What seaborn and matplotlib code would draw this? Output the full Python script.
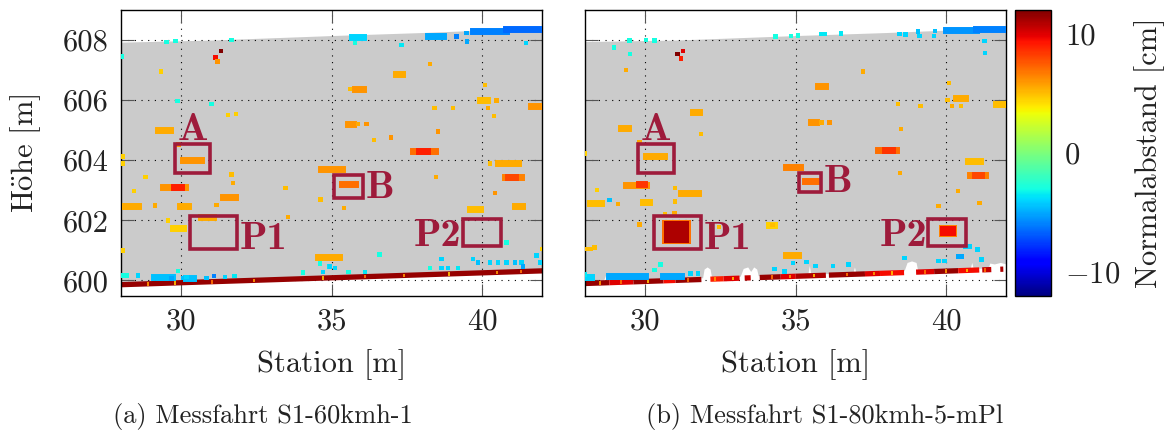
import numpy as np
import pandas as pd
import matplotlib
matplotlib.use("Agg")
import matplotlib.pyplot as plt
import seaborn as sns
from matplotlib.colors import Normalize
from matplotlib.patches import Rectangle
from matplotlib.cm import ScalarMappable

# ---------------------------------------------------------------- data
# value range of the normal distance colour scale [cm]
V_MIN, V_MAX = -12, 12

# ---- run (a): S1-60kmh-1
a_top_x = [28.0, 31.0, 35.0, 38.0, 40.0, 42.0]
a_top_y = [607.93, 608.0, 608.15, 608.25, 608.33, 608.42]
a_floor_x = [28.0, 42.0]
a_floor_y = [599.86, 600.32]
a_fleck_x = [28.9, 29.8, 31.0, 32.4, 34.7, 36.1, 37.4, 38.9, 40.5, 41.3]
a_fleck_v = [6, 5, 7, 6, 5, 7, 6, 5, 6, 7]

a_pt_x = [28.01, 29.50, 29.80, 31.66, 29.87, 31.00, 35.77, 37.32, 39.50, 41.45,
          39.15, 39.48,
          28.01, 28.17, 28.56, 29.34, 29.67, 29.89, 30.06, 30.17, 30.83, 31.09,
          31.44, 31.77, 34.04, 34.60, 34.71, 34.93, 34.61, 34.94, 35.55, 36.10,
          36.58, 38.26, 38.65, 38.87, 39.20, 38.65, 39.70, 39.87, 40.26, 40.53,
          40.81, 41.09, 41.31, 41.36, 41.81, 41.92, 40.81, 35.10,
          31.31, 31.13, 31.20, 29.32, 31.55, 31.81, 29.90, 28.06, 28.06, 28.80,
          31.66, 31.72, 28.43, 33.46, 34.63, 29.12, 31.16, 33.54, 29.56, 28.06,
          42.00, 38.26, 35.60, 40.09, 40.48, 40.20, 40.40, 38.41, 39.04, 35.88,
          36.16, 38.54, 36.41, 36.96, 38.46, 40.26, 40.42, 35.41]
a_pt_y = [607.45, 607.93, 607.97, 608.00, 605.98, 605.87, 607.90, 607.84, 607.95, 607.90,
          608.12, 608.23,
          600.17, 600.17, 600.17, 600.06, 600.06, 600.31, 600.09, 600.12, 600.09, 600.14,
          600.11, 600.14, 600.26, 600.55, 600.28, 600.46, 600.59, 600.47, 600.28, 600.28,
          600.86, 600.42, 600.42, 600.42, 600.42, 600.72, 600.72, 600.60, 600.60, 600.60,
          600.60, 600.60, 600.60, 600.46, 600.83, 600.60, 601.27, 600.42,
          607.64, 607.42, 607.29, 606.95, 605.51, 605.54, 604.52, 604.12, 603.89, 603.45,
          603.52, 603.25, 602.97, 603.08, 602.69, 602.49, 602.52, 602.12, 602.00, 601.00,
          601.05, 607.20, 606.37, 606.51, 605.99, 605.74, 605.48, 605.74, 605.74, 605.20,
          605.20, 604.96, 604.68, 604.76, 603.45, 603.89, 602.91, 602.42]
a_pt_v = [-3, -3, -3, -3, -3, -3, -3, -3.5, -5, -4,
          -6, -5,
          -3, -3, -4, -4.5, -5, -3, -4.5, -4, -4.5, -6,
          -4, -3.5, -3, -3, -4, -3.5, -3, -4, -3, -3.5,
          -3, -3, -4, -4, -3.5, -4, -4, -4.5, -4, -4,
          -4, -4.5, -4, -5, -4, -4, -3, -4,
          12, 9.5, 6, 4.5, 4.5, 4.5, 6, 4.5, 4.5, 4.5,
          5, 5.5, 4.5, 5, 5, 5.5, 5.5, 5.5, 4.5, 4.5,
          4.5, 5.5, 5, 5, 5.5, 5.5, 5, 5, 5, 5.5,
          6, 6, 5, 6, 5.5, 5, 6, 5.5]

a_cl_x0 = [35.66, 38.20, 39.70, 40.80, 29.10, 30.15,
           29.23, 30.06, 34.65, 29.40, 29.75, 31.39, 28.12, 29.95, 30.66, 29.72,
           34.54, 37.15, 35.77, 39.93, 41.64, 35.55, 37.71, 37.90, 35.33, 40.53,
           40.75, 40.85, 39.60, 41.09]
a_cl_x1 = [36.05, 38.70, 40.80, 42.00, 29.70, 30.40,
           29.61, 30.66, 35.35, 30.11, 30.00, 31.77, 28.56, 30.22, 31.05, 30.06,
           35.25, 37.35, 36.05, 40.15, 42.00, 35.71, 38.43, 38.15, 35.77, 41.20,
           41.30, 41.10, 39.93, 41.31]
a_cl_y = [608.10, 608.15, 608.30, 608.37, 600.12, 600.08,
          605.02, 604.02, 603.72, 603.10, 603.12, 602.78, 602.49, 602.49, 602.12, 601.75,
          600.79, 606.87, 606.38, 605.99, 605.79, 605.20, 604.32, 604.30, 603.21, 603.91,
          603.45, 603.45, 602.38, 602.49]
a_cl_v = [-4, -5, -6, -6.5, -4.5, -4.5,
          5.5, 6, 6, 6, 9, 6, 5.5, 5.5, 5.5, 4.5,
          5.5, 5.5, 6, 5, 6, 6, 7, 9, 7, 5.5,
          6.5, 8, 5, 5.5]

# ---- run (b): S1-80kmh-5-mPl
b_top_x = [28.0, 31.0, 35.0, 38.0, 40.0, 42.0]
b_top_y = [607.95, 608.0, 608.15, 608.25, 608.33, 608.42]
b_floor_x = [28.0, 42.0]
b_floor_y = [599.90, 600.38]
# lower edge of the wall surface (white gaps above the kerb line)
b_edge_x = [28.0, 28.6, 28.7, 28.8, 31.9, 31.95, 32.05, 32.15, 32.2, 33.15,
            33.25, 33.4, 33.5, 33.6, 33.7, 33.75, 35.4, 35.45, 35.5, 36.9,
            36.95, 37.0, 38.6, 38.7, 38.85, 39.0, 39.05, 40.8, 40.85, 40.9,
            41.4, 41.45, 41.6, 41.8, 42.0]
b_edge_y = [599.96, 599.98, 600.25, 599.99, 600.09, 600.38, 600.45, 600.38, 600.10, 600.14,
            600.40, 600.45, 600.30, 600.45, 600.38, 600.16, 600.21, 600.50, 600.21, 600.26,
            600.45, 600.26, 600.32, 600.60, 600.65, 600.60, 600.34, 600.40, 600.60, 600.40,
            600.42, 600.58, 600.55, 600.60, 600.55]
# kerb line pieces: start, end, value
b_band_x0 = [28.0, 28.8, 29.6, 30.6, 31.0, 32.16, 32.6, 33.3, 33.8, 34.5,
             35.0, 36.1, 37.3, 37.8, 39.0, 39.6, 40.4, 41.2, 41.8]
b_band_x1 = [28.8, 29.6, 30.6, 31.0, 31.86, 32.6, 33.13, 33.5, 34.5, 35.0,
             36.0, 37.3, 37.8, 38.6, 39.6, 40.4, 41.1, 41.5, 41.9]
b_band_v = [11.5, 10, 11.5, 9.5, 11.5, 9, 10, 10.5, 11.5, 10,
            11, 11.5, 10, 9.5, 10, 11.5, 9.5, 10.5, 11]
b_fleck_x = [28.5, 29.2, 30.1, 31.4, 32.3, 32.9, 34.2, 34.8, 35.6, 36.7,
             37.6, 38.2, 39.3, 40.0, 40.7, 41.3]
b_fleck_v = [6, 7, 5, 7, 6, 5, 7, 6, 5, 7, 6, 5, 7, 6, 5, 7]

b_pt_x = [29.47, 30.02, 30.30, 28.95, 29.49, 34.32, 34.84, 35.07, 35.85, 35.96,
          36.51, 38.45, 38.65, 39.06, 39.11, 39.63, 39.60, 41.27, 41.29, 28.80,
          28.00, 30.30, 30.50, 31.50, 31.74, 34.29, 34.62, 34.91, 35.36, 35.66,
          36.24, 36.75, 38.61, 39.74, 39.94, 40.39, 40.52, 40.64, 40.77, 41.04,
          41.17,
          31.07, 31.25, 31.18, 29.36, 31.85, 29.80, 28.00, 28.39, 30.98, 29.08,
          30.98, 30.65, 30.96, 29.80, 28.06, 28.19, 37.23, 40.09, 40.05, 40.19,
          40.50, 38.39, 39.15, 35.85, 36.12, 38.50, 38.47, 40.39, 39.75, 41.11,
          34.23, 32.20, 32.45, 28.30]
b_pt_y = [607.98, 608.00, 607.98, 607.75, 607.54, 608.12, 608.13, 608.15, 608.20, 608.20,
          608.22, 608.20, 608.18, 608.28, 608.14, 608.30, 608.14, 607.97, 607.56, 602.67,
          600.20, 600.34, 600.53, 600.23, 600.23, 600.39, 600.30, 600.59, 600.62, 600.48,
          600.48, 600.53, 600.75, 600.64, 600.64, 600.80, 600.80, 601.13, 601.13, 601.03,
          600.70,
          607.53, 607.64, 607.38, 607.01, 604.87, 604.60, 604.22, 603.02, 603.08, 602.55,
          602.63, 602.19, 602.23, 601.86, 601.04, 601.04, 606.95, 606.57, 606.00, 605.81,
          605.81, 605.87, 605.81, 605.26, 605.26, 605.04, 603.58, 602.97, 602.47, 602.58,
          601.84, 601.78, 601.78, 601.10]
b_pt_v = [-3, -3, -3, -3, -3, -3, -3, -3, -3.5, -3.5,
          -3.5, -4, -4, -4.5, -4, -4.5, -4, -4, -4, -4.5,
          -3.5, -3, -3, -4, -4, -4, -4, -4, -4, -4,
          -4, -4, -4, -4, -4, -5, -5, -4, -4, -4,
          -4,
          12, 10, 9, 5.5, 5, 5.5, 4.5, 4.5, 5, 5.5,
          5, 5, 5.5, 5.5, 5, 5, 5.5, 5, 5, 5.5,
          5, 5, 5, 5.5, 6, 5.5, 5.5, 5.5, 5.5, 5.5,
          5, 5, 5, 5]

b_cl_x0 = [40.00, 41.00, 28.80, 30.57, 28.05,
           31.57, 29.19, 30.02, 34.67, 29.36, 29.80, 31.18, 28.14, 29.91, 34.12,
           34.68, 35.74, 40.33, 41.66, 35.51, 37.73, 37.95, 35.29, 40.71, 40.78,
           40.95]
b_cl_x1 = [41.00, 41.90, 29.97, 31.18, 28.20,
           31.79, 29.41, 30.63, 35.13, 30.02, 29.95, 31.74, 28.53, 30.13, 34.29,
           35.07, 35.96, 40.61, 42.00, 35.68, 38.34, 38.20, 35.69, 41.11, 41.30,
           41.15]
b_cl_y = [608.32, 608.38, 600.14, 600.14, 600.12,
          605.60, 605.09, 604.13, 603.77, 603.19, 603.20, 602.91, 602.58, 602.60, 601.86,
          600.84, 606.48, 606.07, 605.88, 605.26, 604.35, 604.33, 603.30, 603.96, 603.50,
          603.50]
b_cl_v = [-5.5, -6, -5, -5, -4,
          5.5, 5.5, 5.5, 6.5, 6, 8.5, 5.5, 5, 5, 4.5,
          5.5, 6, 5.5, 5, 6, 7, 8.5, 7, 5, 6.5,
          8]

# solid patches of raised points (x0, x1, y0, y1, value): fringe first, core second
b_patch_x0 = [30.55, 30.61, 39.77, 39.81]
b_patch_x1 = [31.52, 31.46, 40.37, 40.33]
b_patch_y0 = [601.20, 601.25, 601.43, 601.47]
b_patch_y1 = [602.02, 601.97, 601.84, 601.80]
b_patch_v = [7, 11, 6.5, 9.5]

# marked regions: name, x0, x1, y0, y1
a_box_name = ["A", "P1", "B", "P2"]
a_box_x0 = [29.80, 30.28, 35.07, 39.37]
a_box_x1 = [30.94, 31.85, 36.04, 40.64]
a_box_y0 = [603.58, 601.06, 602.75, 601.14]
a_box_y1 = [604.54, 602.14, 603.52, 602.03]
b_box_name = ["A", "P1", "B", "P2"]
b_box_x0 = [29.74, 30.28, 35.09, 39.41]
b_box_x1 = [30.96, 31.85, 35.85, 40.67]
b_box_y0 = [603.58, 601.06, 602.93, 601.16]
b_box_y1 = [604.54, 602.14, 603.58, 602.03]

x_ticks = [30, 35, 40]
y_ticks = [600, 602, 604, 606, 608]
cbar_ticks = [-10, 0, 10]
cbar_ticklabels = ["$-10$", "0", "10"]

# ---------------------------------------------------------------- style
sns.set_theme(style="white")
plt.rcParams.update({
    "font.family": "serif",
    "font.serif": ["cmr10"],
    "mathtext.fontset": "cm",
    "axes.formatter.use_mathtext": True,
    "axes.unicode_minus": False,
    "text.color": "#222222",
    "axes.labelcolor": "#222222",
    "xtick.color": "#222222",
    "ytick.color": "#222222",
})

cmap = plt.get_cmap("jet")
norm = Normalize(V_MIN, V_MAX)
WALL = "#cbcbcb"
MARK = "#9e1b3b"
FS = 22

fig = plt.figure(figsize=(11.7, 4.34), dpi=100)
W, H = 1170, 434
ax_a = fig.add_axes([121.3 / W, 1 - 295.5 / H, 421 / W, 285.5 / H])
ax_b = fig.add_axes([585.3 / W, 1 - 295.5 / H, 421 / W, 285.5 / H])
cax = fig.add_axes([1015 / W, 1 - 296 / H, 36 / W, 286 / H])


def label_pos(name, x0, x1, y0, y1):
    if name == "A":
        return (x0 + x1) / 2, y1 + 0.14, "center"
    if name == "B" or name == "P1":
        return x1 + 0.08, y0, "left"
    return x0 - 0.05, y0, "right"


def draw_panel(ax, top_x, top_y, floor_x, floor_y, pts, clusters, boxes,
               edge=None, band=None, flecks=None, patches=None):
    # wall surface between its lower edge and its top
    if edge is None:
        ex, ey = floor_x, floor_y
    else:
        ex, ey = edge
    grid_x = np.union1d(top_x, ex)
    ax.fill_between(grid_x, np.interp(grid_x, ex, ey), np.interp(grid_x, top_x, top_y),
                    color=WALL, lw=0, zorder=1)

    # kerb line at the foot of the wall
    if band is None:
        ax.plot(floor_x, floor_y, color=cmap(norm(11.5)), lw=3.8,
                solid_capstyle="butt", zorder=2)
    else:
        bx0, bx1, bv = band
        for x0, x1, v in zip(bx0, bx1, bv):
            ax.plot([x0, x1], np.interp([x0, x1], floor_x, floor_y),
                    color=cmap(norm(v)), lw=3.8, solid_capstyle="butt", zorder=2)
    if flecks is not None:
        fx, fv = flecks
        fy = np.interp(fx, floor_x, floor_y)
        ax.vlines(fx, fy - 0.06, fy + 0.06, colors=cmap(norm(np.array(fv))),
                  lw=1.3, zorder=2.1)

    # raised patches
    if patches is not None:
        for x0, x1, y0, y1, v in zip(*patches):
            ax.fill_between([x0, x1], [y0, y0], [y1, y1], color=cmap(norm(v)),
                            lw=0, zorder=2.5)

    # point clusters
    cx0, cx1, cy, cv = clusters
    lc = ax.hlines(cy, cx0, cx1, colors=cmap(norm(np.array(cv))), lw=5.0, zorder=2.6)
    lc.set_capstyle("projecting")

    # single points
    px, py, pv = pts
    df = pd.DataFrame({"Station": px, "Hoehe": py, "Wert": pv})
    sns.scatterplot(data=df, x="Station", y="Hoehe", hue="Wert", palette=cmap,
                    hue_norm=norm, marker="s", s=10, linewidth=0,
                    legend=False, ax=ax, zorder=3)

    # marked regions
    for name, x0, x1, y0, y1 in zip(*boxes):
        ax.add_patch(Rectangle((x0, y0), x1 - x0, y1 - y0, fill=False,
                               ec=MARK, lw=2.6, zorder=4))
        tx, ty, ha = label_pos(name, x0, x1, y0, y1)
        ax.text(tx, ty, name, fontfamily="cmb10", fontsize=29, color=MARK,
                ha=ha, va="baseline", zorder=5)

    ax.set_xlim(28, 42)
    ax.set_ylim(599.5, 609.0)
    ax.set_xticks(x_ticks)
    ax.set_xticklabels([str(t) for t in x_ticks])
    ax.set_yticks(y_ticks)
    ax.set_axisbelow("line")
    ax.grid(True, color="black", lw=0.8, ls=(0, (1, 5)))
    ax.tick_params(direction="in", length=9, width=0.8, colors="#555555",
                   labelcolor="#222222", labelsize=FS, top=True, right=True,
                   bottom=True, left=True, pad=9)
    for s in ax.spines.values():
        s.set_color("black")
        s.set_linewidth(1.0)
    ax.set_xlabel("Station [m]", fontsize=FS, labelpad=10)
    ax.set_ylabel("")


draw_panel(ax_a, a_top_x, a_top_y, a_floor_x, a_floor_y,
           (a_pt_x, a_pt_y, a_pt_v), (a_cl_x0, a_cl_x1, a_cl_y, a_cl_v),
           (a_box_name, a_box_x0, a_box_x1, a_box_y0, a_box_y1),
           flecks=(a_fleck_x, a_fleck_v))
draw_panel(ax_b, b_top_x, b_top_y, b_floor_x, b_floor_y,
           (b_pt_x, b_pt_y, b_pt_v), (b_cl_x0, b_cl_x1, b_cl_y, b_cl_v),
           (b_box_name, b_box_x0, b_box_x1, b_box_y0, b_box_y1),
           edge=(b_edge_x, b_edge_y), band=(b_band_x0, b_band_x1, b_band_v),
           flecks=(b_fleck_x, b_fleck_v),
           patches=(b_patch_x0, b_patch_x1, b_patch_y0, b_patch_y1, b_patch_v))

ax_a.set_yticklabels([str(t) for t in y_ticks])
ax_a.set_ylabel(r"H$\mathrm{\ddot{o}}$he [m]", fontsize=FS, labelpad=14)
ax_b.set_yticklabels([])

# colour bar
cb = fig.colorbar(ScalarMappable(norm=norm, cmap=cmap), cax=cax)
cb.set_ticks(cbar_ticks)
cb.set_ticklabels(cbar_ticklabels)
cb.outline.set_linewidth(1.0)
cb.outline.set_edgecolor("black")
cax.tick_params(direction="in", length=9, width=1.0, colors="#777777",
                labelcolor="#222222", labelsize=FS, left=True, right=True, pad=10)
cb.set_label("Normalabstand [cm]", fontsize=FS, labelpad=10)

fig.text(263 / W, 1 - 417 / H, "(a) Messfahrt S1-60kmh-1", fontsize=19,
         ha="center", va="center")
fig.text(825 / W, 1 - 417 / H, "(b) Messfahrt S1-80kmh-5-mPl", fontsize=19,
         ha="center", va="center")

fig.savefig("out.png", dpi=100)
